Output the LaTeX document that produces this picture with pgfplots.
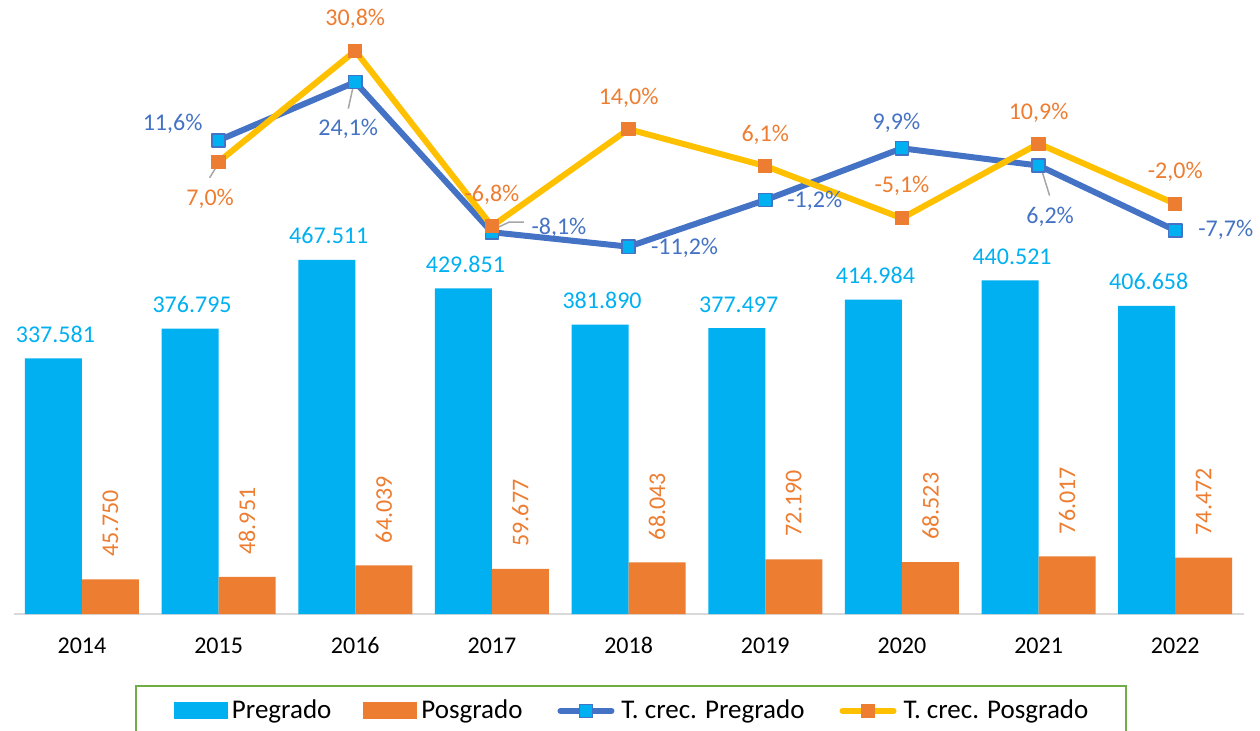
\documentclass[border=0pt]{standalone}
\usepackage{pgfplots}
\pgfplotsset{compat=1.18}
\usepackage{pgfplotstable}
\usepackage{fontspec}
\setmainfont{Carlito}
\definecolor{cpre}{HTML}{00B0F0}
\definecolor{cpos}{HTML}{ED7D31}
\definecolor{lblue}{HTML}{4472C4}
\definecolor{lyel}{HTML}{FFC000}
\definecolor{lgreen}{HTML}{70AD47}
\definecolor{agray}{HTML}{D9D9D9}
\definecolor{lgray}{HTML}{A6A6A6}

\pgfplotsset{
  mylinelegend/.style={legend image code/.code={\path (0pt,0pt) (28.5pt,0pt);\draw[##1, mark repeat=2, mark phase=2] plot coordinates {(1.5pt,0pt) (14.25pt,0pt) (27pt,0pt)};}},
  prelegend/.style={legend image code/.code={\fill[cpre] (0pt,-3.75pt) rectangle (26pt,3.75pt);}},
  poslegend/.style={legend image code/.code={\fill[cpos] (0pt,-3.75pt) rectangle (26pt,3.75pt);}},
}

\pgfplotstableread{
x pre pos
0 337581 45750
1 376795 48951
2 467511 64039
3 429851 59677
4 381890 68043
5 377497 72190
6 414984 68523
7 440521 76017
8 406658 74472
}\bars

\pgfplotstableread{
x y dx dy lab
1 11.6 -23 4.75 11,6
2 24.1 -3.5 -26.75 24,1
3 -8.1 33.5 -1 -8,1
4 -11.2 28 -4 -11,2
5 -1.2 24.75 -3.5 -1,2
6 9.9 -2.75 9.5 9,9
7 6.2 5.75 -29 6,2
8 -7.7 25.25 -3 -7,7
}\gpre

\pgfplotstableread{
x y dx dy lab
1 7.0 -4.25 -22 7,0
2 30.8 0 12.5 30,8
3 -6.8 0 12.5 -6,8
4 14.0 0 12.5 14,0
5 6.1 0 12.5 6,1
6 -5.1 0 13 -5,1
7 10.9 0 12 10,9
8 -2.0 0 12.5 -2,0
}\gpos

\newcommand\lblfont{\fontsize{12}{14}\selectfont}

\begin{document}
\begin{tikzpicture}
\path[use as bounding box] (-6.8pt,-58pt) rectangle (623.2pt,307pt);
\begin{axis}[
  at={(0,0)}, anchor=south west, scale only axis,
  width=615pt, height=303pt,
  xmin=-0.5, xmax=8.5, ymin=0, ymax=800000,
  clip=false,
  ybar=0pt, bar width=28.5pt,
  axis y line=none, axis x line*=bottom,
  x axis line style={-, draw=agray, line width=0.75pt},
  xtick={0,1,2,3,4,5,6,7,8},
  xticklabels={2014,2015,2016,2017,2018,2019,2020,2021,2022},
  xtick style={draw=none}, major tick length=0pt,
  xticklabel style={font=\lblfont, anchor=base, yshift=-19.5pt},
]
\addplot[fill=cpre, draw=none, point meta=y,
  nodes near coords={\pgfmathprintnumber[fixed,precision=0,1000 sep={.},assume math mode=true]{\pgfplotspointmeta}},
  every node near coord/.append style={color=cpre, font=\lblfont, inner sep=0pt, anchor=base, xshift=1pt, yshift=8pt}]
  table[x=x, y=pre]{\bars};
\addplot[fill=cpos, draw=none, point meta=y,
  nodes near coords={\pgfmathprintnumber[fixed,precision=0,1000 sep={.},assume math mode=true]{\pgfplotspointmeta}},
  every node near coord/.append style={color=cpos, font=\lblfont, inner sep=0pt, yshift=11pt, rotate=90, anchor=west}]
  table[x=x, y=pos]{\bars};
\end{axis}

\begin{axis}[
  at={(0,0)}, anchor=south west, scale only axis,
  width=615pt, height=303pt,
  xmin=-0.5, xmax=8.5, ymin=-90, ymax=40,
  clip=false,
  axis lines=none, xtick=\empty, ytick=\empty,
  legend columns=4,
  legend style={at={(axis description cs:0.0987, -0.1172)}, anchor=north west,
    draw=lgreen, line width=1pt, inner xsep=19pt, inner ysep=7pt,
    font=\fontsize{13.5}{16}\selectfont,
    nodes={inner sep=0pt},
    /tikz/every odd column/.append style={column sep=2pt},
    /tikz/every even column/.append style={column sep=16pt}},
  legend cell align=left,
]
\addlegendimage{prelegend}
\addlegendentry{Pregrado}
\addlegendimage{poslegend}
\addlegendentry{Posgrado}
% leader lines
\draw[lgray, line width=0.75pt] ([shift={(-0.5pt,0.25pt)}]axis cs:2,24.1) -- ([shift={(-3.5pt,-13.25pt)}]axis cs:2,24.1);
\draw[lgray, line width=0.75pt] ([shift={(1pt,1.5pt)}]axis cs:3,-8.1) -- ([shift={(8.5pt,5pt)}]axis cs:3,-8.1) -- ([shift={(16pt,5pt)}]axis cs:3,-8.1);
\draw[lgray, line width=0.75pt] ([shift={(1pt,-0.5pt)}]axis cs:7,6.2) -- ([shift={(5.5pt,-15pt)}]axis cs:7,6.2);
\draw[lgray, line width=0.75pt] ([shift={(-0.5pt,-1.5pt)}]axis cs:1,7.0) -- ([shift={(-4.5pt,-8pt)}]axis cs:1,7.0);
\addplot[lblue, line width=3pt, line join=round, line cap=round,
  mark=square*, mark size=3.3pt, mark options={fill=cpre, draw=lblue, line width=0.75pt},
  mylinelegend,
  point meta=explicit symbolic,
  visualization depends on={\thisrow{dx} \as \dx},
  visualization depends on={\thisrow{dy} \as \dy},
  nodes near coords={\pgfplotspointmeta\%},
  every node near coord/.append style={color=lblue, font=\lblfont, inner sep=0pt, anchor=base, xshift=\dx pt, yshift=\dy pt}]
  table[x=x, y=y, meta=lab]{\gpre};
\addlegendentry{T. crec. Pregrado}
\addplot[lyel, line width=3pt, line join=round, line cap=round,
  mark=square*, mark size=3.3pt, mark options={fill=cpos, draw=cpos, line width=0.5pt},
  mylinelegend,
  point meta=explicit symbolic,
  visualization depends on={\thisrow{dx} \as \dx},
  visualization depends on={\thisrow{dy} \as \dy},
  nodes near coords={\pgfplotspointmeta\%},
  every node near coord/.append style={color=cpos, font=\lblfont, inner sep=0pt, anchor=base, xshift=\dx pt, yshift=\dy pt}]
  table[x=x, y=y, meta=lab]{\gpos};
\addlegendentry{T. crec. Posgrado}
\end{axis}
\end{tikzpicture}
\end{document}
